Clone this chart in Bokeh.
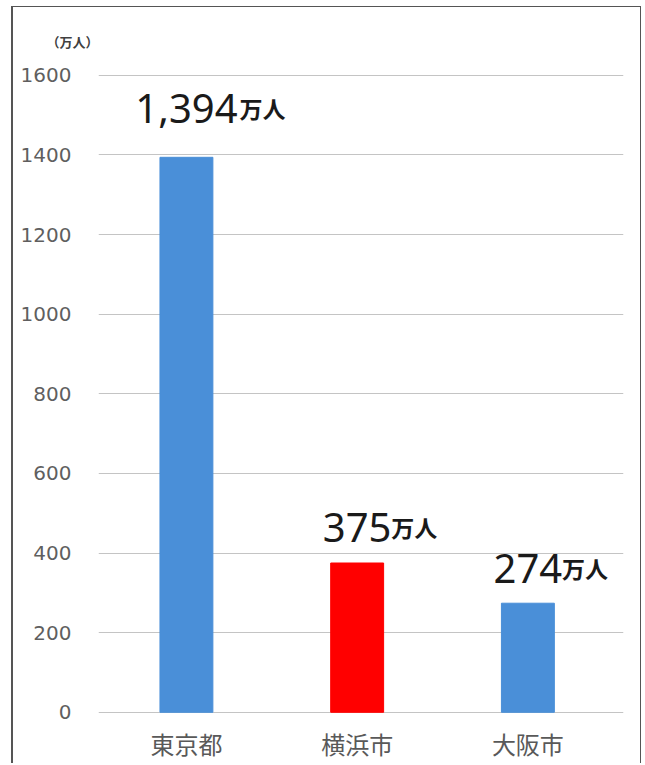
from bokeh.plotting import figure
from bokeh.models import Range1d, FixedTicker, Title
from bokeh.core.properties import value
from bokeh.embed import file_html
from bokeh.resources import INLINE

# ---- data ----
categories = ["東京都", "横浜市", "大阪市"]
populations = [1394, 375, 274]
value_labels = ["1,394", "375", "274"]
unit_text = "万人"
axis_unit_text = "（万人）"
y_ticks = [0, 200, 400, 600, 800, 1000, 1200, 1400, 1600]
bar_colors = ["#4a8fd8", "#ff0000", "#4a8fd8"]

# ---- layout / style ----
NUM_FS = 40
label_gaps = [49, 36, 35]
xs = list(range(len(categories)))


def half_width(s, fs):
    w = 0.0
    for ch in s:
        w += 0.55 if ch.isdigit() else 0.4
    return w * fs / 2.0


p = figure(width=630, height=757,
           x_range=Range1d(-0.515, 2.56), y_range=Range1d(-3, 1604.5),
           output_backend="svg", toolbar_location=None,
           min_border_left=85, min_border_right=20,
           min_border_top=66, min_border_bottom=51)
p.styles = {"margin-left": "11px", "margin-top": "6px",
            "border-left": "2px solid #555555",
            "border-top": "1px solid #555555",
            "border-right": "1px solid #555555"}

p.vbar(x=xs, top=populations, width=0.31, color=bar_colors)

p.outline_line_color = None
p.xgrid.visible = False
p.ygrid.ticker = FixedTicker(ticks=y_ticks)
p.ygrid.grid_line_color = "#c4c4c4"
p.ygrid.grid_line_width = 1

p.yaxis.ticker = FixedTicker(ticks=y_ticks)
p.yaxis.axis_line_color = None
p.yaxis.major_tick_line_color = None
p.yaxis.minor_tick_line_color = None
p.yaxis.major_label_standoff = 21
p.yaxis.major_label_text_font = "DejaVu Sans"
p.yaxis.major_label_text_font_size = "20px"
p.yaxis.major_label_text_color = "#5f5f5f"

p.xaxis.ticker = FixedTicker(ticks=xs)
p.xaxis.major_label_overrides = {i: c for i, c in enumerate(categories)}
p.xaxis.axis_line_color = None
p.xaxis.major_tick_line_color = None
p.xaxis.minor_tick_line_color = None
p.xaxis.major_label_standoff = 6
p.xaxis.major_label_text_font = "Noto Sans CJK JP"
p.xaxis.major_label_text_font_size = "24px"
p.xaxis.major_label_text_color = "#595959"

# value labels
p.text(x=xs, y=populations, text=value_labels,
       y_offset=[-g for g in label_gaps],
       text_align="center", text_baseline="alphabetic",
       text_font=value("Noto Sans"), text_font_size=f"{NUM_FS}px",
       text_color="#1a1a1a")
p.text(x=xs, y=populations, text=[unit_text] * len(xs),
       x_offset=[half_width(s, NUM_FS) + 1 for s in value_labels],
       y_offset=[-g for g in label_gaps],
       text_align="left", text_baseline="alphabetic",
       text_font=value("Noto Sans CJK JP"), text_font_size="23px",
       text_font_style="bold", text_color="#1a1a1a")

p.add_layout(Title(text=axis_unit_text, align="left", offset=-52,
                   standoff=45, text_font="Noto Sans CJK JP",
                   text_font_size="13px", text_font_style="bold",
                   text_color="#404040"), "above")

open("out.html", "w").write(file_html(p, INLINE))
